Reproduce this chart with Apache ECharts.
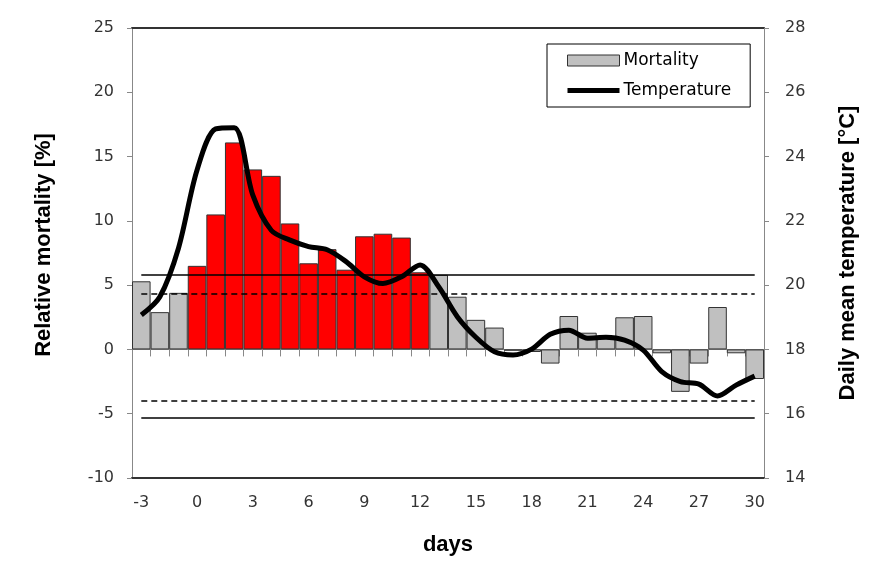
<!DOCTYPE html>
<html>
<head>
<meta charset="utf-8">
<script src="https://cdn.jsdelivr.net/npm/echarts@6/dist/echarts.min.js"></script>
<style>
html,body{margin:0;padding:0;background:#fff;}
#chart{width:889px;height:565px;}
</style>
</head>
<body>
<div id="chart"></div>
<script>
// ---- data ----
const days = [-3,-2,-1,0,1,2,3,4,5,6,7,8,9,10,11,12,13,14,15,16,17,18,19,20,21,22,23,24,25,26,27,28,29,30];
const mortality = [5.3,2.9,4.4,6.5,10.5,16.1,14.0,13.5,9.8,6.7,7.8,6.2,8.8,9.0,8.7,6.0,5.8,4.1,2.3,1.7,-0.1,-0.2,-1.1,2.6,1.3,1.0,2.5,2.6,-0.3,-3.3,-1.1,3.3,-0.3,-2.3];
const temperature = [19.07,19.64,21.15,23.58,24.86,24.9,22.8,21.7,21.4,21.2,21.1,20.74,20.26,20.05,20.26,20.63,19.95,19.02,18.38,17.93,17.83,18.01,18.47,18.6,18.35,18.38,18.29,17.98,17.31,17.0,16.92,16.55,16.89,17.17];
const heatwavePeriod = [0, 12];          // first and last day of highlighted period
const thresholdSolid = [5.8, -5.3];
const thresholdDashed = [4.3, -4.0];
const seriesNames = ['Mortality', 'Temperature'];
const axisTitles = {x: 'days', left: 'Relative mortality [%]', right: 'Daily mean temperature [°C]'};

// ---- build ----
const cats = days.map(String);
const barData = mortality.map((v, i) => {
  const d = days[i];
  const hw = d >= heatwavePeriod[0] && d <= heatwavePeriod[1];
  return hw ? {value: v, itemStyle: {color: '#ff0000'}} : v;
});
function hLine(v, type) {
  return [
    {coord: [cats[0], v], lineStyle: {type: type}},
    {coord: [cats[cats.length - 1], v]}
  ];
}
const markLines = []
  .concat(thresholdSolid.map(v => hLine(v, 'solid')))
  .concat(thresholdDashed.map(v => hLine(v, [6, 4])));

const tickFont = {fontFamily: 'DejaVu Sans', fontSize: 16, color: '#333'};
const titleFont = {fontFamily: 'Liberation Sans', fontSize: 22, fontWeight: 'bold', color: '#000'};

const chart = echarts.init(document.getElementById('chart'), null, {renderer: 'canvas'});
chart.setOption({
  animation: false,
  backgroundColor: '#fff',
  grid: {left: 132, right: 125, top: 28, bottom: 87, containLabel: false},
  legend: {
    orient: 'vertical',
    left: 547, top: 44,
    padding: [8, 19, 8, 20],
    borderColor: '#000', borderWidth: 1,
    itemWidth: 52, itemHeight: 11, itemGap: 13,
    textStyle: {fontFamily: 'DejaVu Sans', fontSize: 17, color: '#000', padding: [0, 0, 0, -1]},
    data: [
      {name: seriesNames[0], icon: 'rect', itemStyle: {color: '#c0c0c0', borderColor: '#333', borderWidth: 1}},
      {name: seriesNames[1], icon: 'path://M0,0 M0,3 L52,3 L52,8 L0,8 Z M52,11',
       itemStyle: {color: '#000', borderWidth: 0}}
    ]
  },
  xAxis: [
    {
      type: 'category', data: cats, position: 'bottom',
      boundaryGap: true,
      axisLine: {onZero: false, lineStyle: {color: '#333', width: 2}},
      axisTick: {show: false},
      axisLabel: Object.assign({interval: 2, margin: 17}, tickFont),
      name: axisTitles.x, nameLocation: 'middle', nameGap: 56,
      nameTextStyle: titleFont
    },
    {
      type: 'category', data: cats, position: 'top',
      boundaryGap: true,
      axisLine: {onZero: true, onZeroAxisIndex: 0, lineStyle: {color: '#888', width: 1}},
      axisTick: {show: true, inside: true, length: 7, interval: 0, lineStyle: {color: '#888'}},
      axisLabel: {show: false}
    },
    {
      type: 'category', data: cats, position: 'top',
      axisLine: {onZero: false, lineStyle: {color: '#333', width: 2}},
      axisTick: {show: false},
      axisLabel: {show: false}
    }
  ],
  yAxis: [
    {
      type: 'value', min: -10, max: 25, interval: 5, position: 'left',
      axisLine: {show: true, lineStyle: {color: '#888'}},
      axisTick: {show: true, length: 5, lineStyle: {color: '#888'}},
      splitLine: {show: false},
      axisLabel: Object.assign({margin: 18}, tickFont),
      name: axisTitles.left, nameLocation: 'middle', nameGap: 77, nameRotate: 90,
      nameTextStyle: Object.assign({padding: [0, 0, 0, 16]}, titleFont)
    },
    {
      type: 'value', min: 14, max: 28, interval: 2, position: 'right',
      axisLine: {show: true, lineStyle: {color: '#888'}},
      axisTick: {show: true, length: 5, lineStyle: {color: '#888'}},
      splitLine: {show: false},
      axisLabel: Object.assign({margin: 21}, tickFont),
      name: axisTitles.right, nameLocation: 'middle', nameGap: 73, nameRotate: 90,
      nameTextStyle: titleFont
    }
  ],
  series: [
    {
      name: seriesNames[0], type: 'bar', xAxisIndex: 0, yAxisIndex: 0,
      data: barData,
      barCategoryGap: '0%',
      itemStyle: {color: '#c0c0c0', borderColor: '#333', borderWidth: 1},
      markLine: {
        silent: true, symbol: 'none', label: {show: false},
        lineStyle: {color: '#000', width: 1.5},
        data: markLines
      },
      z: 2
    },
    {
      name: seriesNames[1], type: 'line', xAxisIndex: 0, yAxisIndex: 1,
      data: temperature,
      smooth: 0.3, symbol: 'none',
      lineStyle: {color: '#000', width: 5},
      itemStyle: {color: '#000'},
      z: 5
    }
  ]
});
</script>
</body>
</html>
